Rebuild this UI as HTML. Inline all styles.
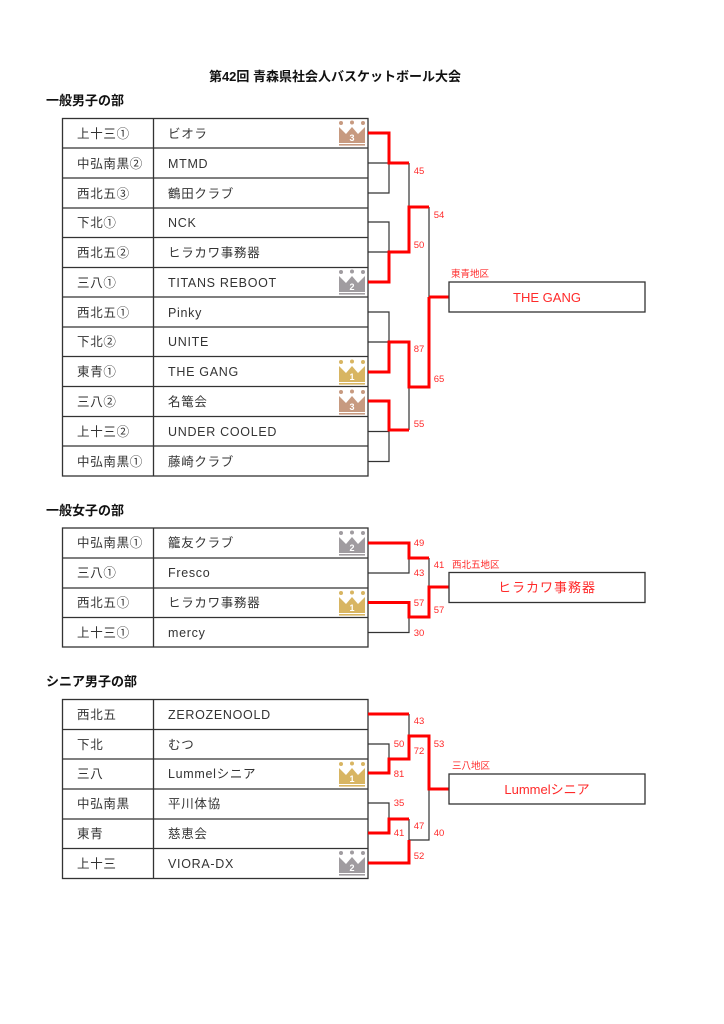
<!DOCTYPE html>
<html><head><meta charset="utf-8"><style>
html,body{margin:0;padding:0;background:#fff;}
svg{display:block;}
.t{font-family:"Liberation Sans","Noto Sans CJK JP",sans-serif;}
</style></head><body>
<svg width="724" height="1024" viewBox="0 0 724 1024" xmlns="http://www.w3.org/2000/svg" class="t">
<defs>
<g id="cr">
<circle cx="3" cy="5" r="2"/><circle cx="14" cy="4.5" r="2"/><circle cx="25" cy="5" r="2"/>
<polygon points="1,9 8,16 14,9 20,16 27,9 27,25 1,25"/>
<rect x="1" y="26" width="26" height="1.6"/>
</g>
</defs>
<text x="335" y="81" font-size="13" font-weight="bold" text-anchor="middle" fill="#111">第42回 青森県社会人バスケットボール大会</text>
<text x="46" y="105" font-size="13" font-weight="bold" fill="#111">一般男子の部</text>
<text x="46" y="515" font-size="13" font-weight="bold" fill="#111">一般女子の部</text>
<text x="46" y="686" font-size="13" font-weight="bold" fill="#111">シニア男子の部</text>

<!-- Men table -->
<g stroke="#333" stroke-width="1.3" fill="none">
<rect x="62.5" y="118.5" width="305.5" height="357.5"/>
<line x1="153.5" y1="118.5" x2="153.5" y2="476"/>
<line x1="62.5" y1="148" x2="368" y2="148"/>
<line x1="62.5" y1="178" x2="368" y2="178"/>
<line x1="62.5" y1="208" x2="368" y2="208"/>
<line x1="62.5" y1="237.5" x2="368" y2="237.5"/>
<line x1="62.5" y1="267.5" x2="368" y2="267.5"/>
<line x1="62.5" y1="297" x2="368" y2="297"/>
<line x1="62.5" y1="327" x2="368" y2="327"/>
<line x1="62.5" y1="356.5" x2="368" y2="356.5"/>
<line x1="62.5" y1="386.5" x2="368" y2="386.5"/>
<line x1="62.5" y1="416.5" x2="368" y2="416.5"/>
<line x1="62.5" y1="446" x2="368" y2="446"/>
</g>
<g font-size="12.5" fill="#333" letter-spacing="0.7">
<text x="77" y="138">上十三①</text><text x="168" y="138">ビオラ</text>
<text x="77" y="168">中弘南黒②</text><text x="168" y="168">MTMD</text>
<text x="77" y="198">西北五③</text><text x="168" y="198">鶴田クラブ</text>
<text x="77" y="227">下北①</text><text x="168" y="227">NCK</text>
<text x="77" y="257">西北五②</text><text x="168" y="257">ヒラカワ事務器</text>
<text x="77" y="287">三八①</text><text x="168" y="287">TITANS REBOOT</text>
<text x="77" y="317">西北五①</text><text x="168" y="317">Pinky</text>
<text x="77" y="346">下北②</text><text x="168" y="346">UNITE</text>
<text x="77" y="376">東青①</text><text x="168" y="376">THE GANG</text>
<text x="77" y="406">三八②</text><text x="168" y="406">名篭会</text>
<text x="77" y="436">上十三②</text><text x="168" y="436">UNDER COOLED</text>
<text x="77" y="466">中弘南黒①</text><text x="168" y="466">藤崎クラブ</text>
</g>

<!-- Women table -->
<g stroke="#333" stroke-width="1.3" fill="none">
<rect x="62.5" y="528" width="305.5" height="119"/>
<line x1="153.5" y1="528" x2="153.5" y2="647"/>
<line x1="62.5" y1="558" x2="368" y2="558"/>
<line x1="62.5" y1="588" x2="368" y2="588"/>
<line x1="62.5" y1="617.5" x2="368" y2="617.5"/>
</g>
<g font-size="12.5" fill="#333" letter-spacing="0.7">
<text x="77" y="547">中弘南黒①</text><text x="168" y="547">籠友クラブ</text>
<text x="77" y="577">三八①</text><text x="168" y="577">Fresco</text>
<text x="77" y="607">西北五①</text><text x="168" y="607">ヒラカワ事務器</text>
<text x="77" y="637">上十三①</text><text x="168" y="637">mercy</text>
</g>

<!-- Senior table -->
<g stroke="#333" stroke-width="1.3" fill="none">
<rect x="62.5" y="699.5" width="305.5" height="179"/>
<line x1="153.5" y1="699.5" x2="153.5" y2="878.5"/>
<line x1="62.5" y1="729.5" x2="368" y2="729.5"/>
<line x1="62.5" y1="759" x2="368" y2="759"/>
<line x1="62.5" y1="789" x2="368" y2="789"/>
<line x1="62.5" y1="819" x2="368" y2="819"/>
<line x1="62.5" y1="848.5" x2="368" y2="848.5"/>
</g>
<g font-size="12.5" fill="#333" letter-spacing="0.7">
<text x="77" y="719">西北五</text><text x="168" y="719">ZEROZENOOLD</text>
<text x="77" y="749">下北</text><text x="168" y="749">むつ</text>
<text x="77" y="778">三八</text><text x="168" y="778">Lummelシニア</text>
<text x="77" y="808">中弘南黒</text><text x="168" y="808">平川体協</text>
<text x="77" y="838">東青</text><text x="168" y="838">慈恵会</text>
<text x="77" y="868">上十三</text><text x="168" y="868">VIORA-DX</text>
</g>

<!-- Crowns -->
<g>
<use href="#cr" x="338" y="118" fill="#c79a80"/><text x="352" y="141" font-size="9" font-weight="bold" fill="#fff" text-anchor="middle">3</text>
<use href="#cr" x="338" y="267" fill="#a09ca0"/><text x="352" y="290" font-size="9" font-weight="bold" fill="#fff" text-anchor="middle">2</text>
<use href="#cr" x="338" y="357" fill="#d8b562"/><text x="352" y="380" font-size="9" font-weight="bold" fill="#fff" text-anchor="middle">1</text>
<use href="#cr" x="338" y="387" fill="#c79a80"/><text x="352" y="410" font-size="9" font-weight="bold" fill="#fff" text-anchor="middle">3</text>
<use href="#cr" x="338" y="528" fill="#a09ca0"/><text x="352" y="551" font-size="9" font-weight="bold" fill="#fff" text-anchor="middle">2</text>
<use href="#cr" x="338" y="588" fill="#d8b562"/><text x="352" y="611" font-size="9" font-weight="bold" fill="#fff" text-anchor="middle">1</text>
<use href="#cr" x="338" y="759" fill="#d8b562"/><text x="352" y="782" font-size="9" font-weight="bold" fill="#fff" text-anchor="middle">1</text>
<use href="#cr" x="338" y="848" fill="#a09ca0"/><text x="352" y="871" font-size="9" font-weight="bold" fill="#fff" text-anchor="middle">2</text>
</g>

<!-- Black bracket lines -->
<g stroke="#333" stroke-width="1.2" fill="none">
<polyline points="368,163 389,163 389,193 368,193"/>
<polyline points="409,163 409,207"/>
<polyline points="368,222 389,222 389,252 368,252"/>
<polyline points="429,207 429,297"/>
<polyline points="368,312 389,312 389,342 368,342"/>
<polyline points="409,387 409,430"/>
<polyline points="389,430 389,461.5 368,461.5"/>
<polyline points="368,431.5 389,431.5"/>
<polyline points="409,558 409,573 368,573"/>
<polyline points="429,558 429,587"/>
<polyline points="409,617 409,632.5 368,632.5"/>
<polyline points="409,714 409,736"/>
<polyline points="368,744 389,744 389,759"/>
<polyline points="429,789 429,840 409,840 409,819"/>
<polyline points="368,803 389,803 389,819"/>
</g>

<!-- Red bracket lines -->
<g stroke="#ff0000" stroke-width="3" fill="none" stroke-linejoin="miter">
<polyline points="368,133 389,133 389,163 409,163"/>
<polyline points="368,282 389,282 389,252 409,252 409,207 429,207"/>
<polyline points="429,297 449,297"/>
<polyline points="368,372 389,372 389,342 409,342 409,387 429,387 429,297"/>
<polyline points="368,401 389,401 389,430 409,430"/>
<polyline points="368,543 409,543 409,558 429,558"/>
<polyline points="368,602.5 409,602.5 409,617 429,617 429,587 449,587"/>
<polyline points="368,714 409,714"/>
<polyline points="368,773 389,773 389,759 409,759 409,736 429,736 429,789 449,789"/>
<polyline points="368,833 389,833 389,819 409,819"/>
<polyline points="368,863 409,863 409,840"/>
</g>

<!-- Winner boxes -->
<g stroke="#333" stroke-width="1.3" fill="#fff">
<rect x="449" y="282" width="196" height="30"/>
<rect x="449" y="572.5" width="196" height="30"/>
<rect x="449" y="774" width="196" height="30"/>
</g>
<g fill="#ff2a2a">
<text x="547" y="302" font-size="13" text-anchor="middle">THE GANG</text>
<text x="547" y="592" font-size="13" text-anchor="middle" letter-spacing="1">ヒラカワ事務器</text>
<text x="547" y="794" font-size="13" text-anchor="middle">Lummelシニア</text>
<g font-size="9.5">
<text x="451" y="277">東青地区</text>
<text x="452" y="568">西北五地区</text>
<text x="452" y="769">三八地区</text>
</g>
<g font-size="9.5" text-anchor="middle">
<text x="419" y="174">45</text>
<text x="439" y="218">54</text>
<text x="419" y="248">50</text>
<text x="419" y="352">87</text>
<text x="439" y="382">65</text>
<text x="419" y="427">55</text>

<text x="419" y="546">49</text>
<text x="439" y="568">41</text>
<text x="419" y="576">43</text>
<text x="419" y="606">57</text>
<text x="439" y="613">57</text>
<text x="419" y="636">30</text>

<text x="419" y="724">43</text>
<text x="399" y="747">50</text>
<text x="419" y="754">72</text>
<text x="439" y="747">53</text>
<text x="399" y="777">81</text>
<text x="399" y="806">35</text>
<text x="419" y="829">47</text>
<text x="399" y="836">41</text>
<text x="439" y="836">40</text>
<text x="419" y="859">52</text>
</g>
</g>
</svg>
</body></html>
